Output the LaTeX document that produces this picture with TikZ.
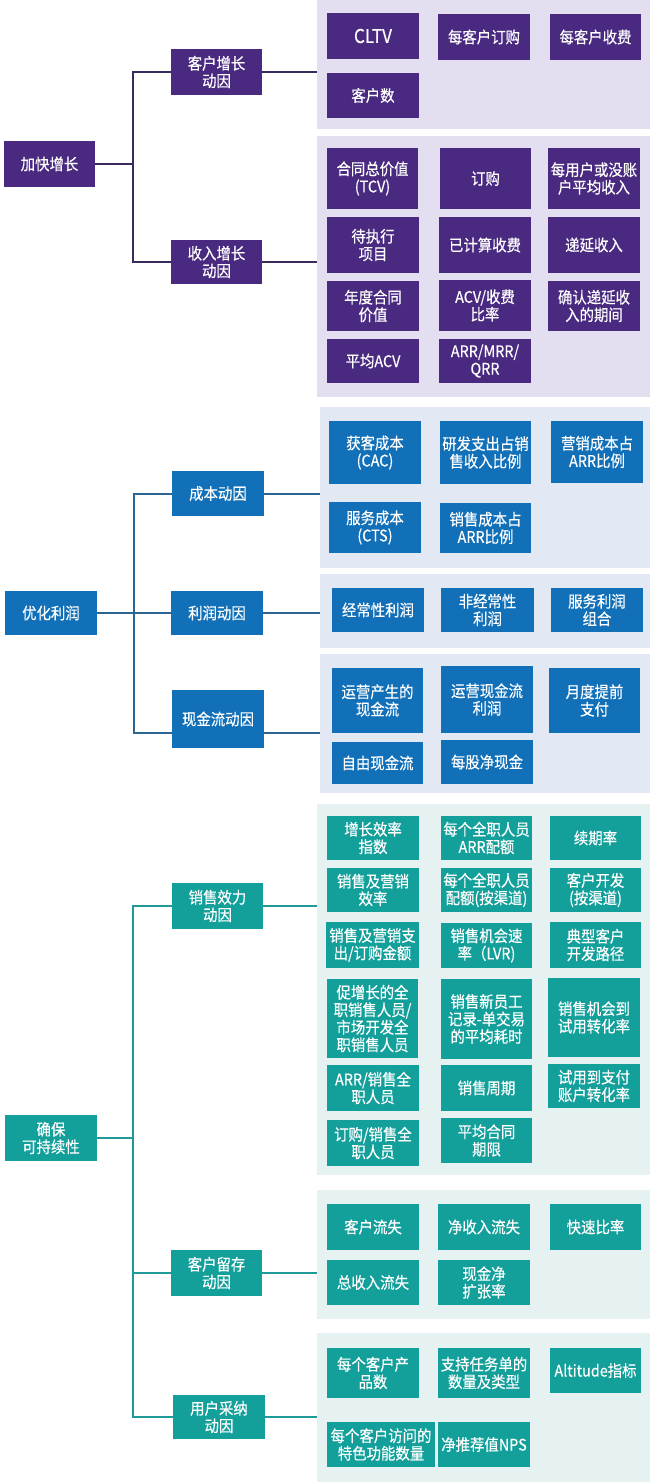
\documentclass[tikz,border=0pt]{standalone}
\usepackage{fontspec}
\setmainfont{Noto Sans CJK SC}[FakeStretch=0.9, FakeBold=0.4]
\definecolor{pur}{HTML}{4A2A80}
\definecolor{purbg}{HTML}{E3DFF0}
\definecolor{purln}{HTML}{3B2A5E}
\definecolor{blu}{HTML}{1170B8}
\definecolor{blubg}{HTML}{E3E9F4}
\definecolor{bluln}{HTML}{2B6592}
\definecolor{tea}{HTML}{13A09B}
\definecolor{teabg}{HTML}{E6F2F2}
\definecolor{tealn}{HTML}{1F9A98}
\tikzset{
  base/.style={inner sep=0pt, outer sep=0pt, align=center, text=white,
    font=\fontsize{16}{17.5}\selectfont},
  pbox/.style={base, fill=pur},
  bbox/.style={base, fill=blu},
  tbox/.style={base, fill=tea},
  ppan/.style={inner sep=0pt, outer sep=0pt, fill=purbg},
  bpan/.style={inner sep=0pt, outer sep=0pt, fill=blubg},
  tpan/.style={inner sep=0pt, outer sep=0pt, fill=teabg},
  pline/.style={draw=purln, line width=2pt},
  bline/.style={draw=bluln, line width=2pt},
  tline/.style={draw=tealn, line width=2pt},
}
\newcommand\mkbox[7]{\node[#1, minimum width={(#5-#3)*1pt}, minimum height={(#6-#4)*1pt}] (#2) at ({(#3+#5)/2},{(#4+#6)/2}) {#7};}
\begin{document}
\begin{tikzpicture}[x=1pt,y=-1pt]
\useasboundingbox[fill=white] (0,0) rectangle (650,1482);
% ---------------- section 1 ----------------
\mkbox{ppan}{p11}{317}{0}{650}{129}{}
\mkbox{ppan}{p12}{317}{136}{650}{397}{}
\mkbox{pbox}{r1}{4}{141}{95}{187}{加快增长}
\mkbox{pbox}{c11}{171}{49}{262}{95}{客户增长\\动因}
\mkbox{pbox}{c12}{171}{240}{262}{284}{收入增长\\动因}
\coordinate (b1) at (133,164);
\draw[pline] (r1.east) -- (r1.east -| b1) |- (c11.west);
\draw[pline] (r1.east -| b1) |- (c12.west);
\draw[pline] (c11.east) -- (c11.east -| p11.west);
\draw[pline] (c12.east) -- (c12.east -| p12.west);
\mkbox{pbox}{l1a}{327}{13}{419}{59}{\fontsize{19}{20}\selectfont CLTV}
\mkbox{pbox}{l1b}{438}{14}{530}{60}{每客户订购}
\mkbox{pbox}{l1c}{550}{14}{641}{60}{每客户收费}
\mkbox{pbox}{l1d}{327}{73}{419}{118}{客户数}
\mkbox{pbox}{l2a}{327}{148}{418}{209}{合同总价值\\(TCV)}
\mkbox{pbox}{l2b}{440}{148}{531}{209}{订购}
\mkbox{pbox}{l2c}{548}{148}{640}{209}{每用户或没账\\户平均收入}
\mkbox{pbox}{l2d}{327}{217}{419}{273}{待执行\\项目}
\mkbox{pbox}{l2e}{439}{217}{531}{273}{已计算收费}
\mkbox{pbox}{l2f}{548}{217}{640}{273}{递延收入}
\mkbox{pbox}{l2g}{327}{281}{419}{331}{年度合同\\价值}
\mkbox{pbox}{l2h}{439}{280}{531}{331}{ACV/收费\\比率}
\mkbox{pbox}{l2i}{548}{281}{640}{331}{确认递延收\\入的期间}
\mkbox{pbox}{l2j}{327}{339}{419}{383}{平均ACV}
\mkbox{pbox}{l2k}{439}{339}{531}{383}{ARR/MRR/\\QRR}
% ---------------- section 2 ----------------
\mkbox{bpan}{p21}{320}{407}{650}{568}{}
\mkbox{bpan}{p22}{320}{574}{650}{648}{}
\mkbox{bpan}{p23}{320}{654}{650}{793}{}
\mkbox{bbox}{r2}{5}{591}{97}{635}{优化利润}
\mkbox{bbox}{c21}{172}{471}{264}{516}{成本动因}
\mkbox{bbox}{c22}{171}{591}{263}{635}{利润动因}
\mkbox{bbox}{c23}{172}{690}{264}{748}{现金流动因}
\coordinate (b2) at (134,613);
\coordinate (c23w) at ([yshift=-14pt]c23.west);
\coordinate (c23e) at ([yshift=-14pt]c23.east);
\draw[bline] (r2.east) -- (r2.east -| b2) |- (c21.west);
\draw[bline] (r2.east -| b2) |- (c22.west);
\draw[bline] (r2.east -| b2) |- (c23w);
\draw[bline] (c21.east) -- (c21.east -| p21.west);
\draw[bline] (c22.east) -- (c22.east -| p22.west);
\draw[bline] (c23e) -- (c23e -| p23.west);
\mkbox{bbox}{m1a}{329}{421}{421}{484}{获客成本\\(CAC)}
\mkbox{bbox}{m1b}{440}{421}{531}{484}{研发支出占销\\售收入比例}
\mkbox{bbox}{m1c}{551}{421}{643}{483}{营销成本占\\ARR比例}
\mkbox{bbox}{m1d}{329}{502}{421}{553}{服务成本\\(CTS)}
\mkbox{bbox}{m1e}{440}{503}{531}{553}{销售成本占\\ARR比例}
\mkbox{bbox}{m2a}{332}{588}{424}{632}{经常性利润}
\mkbox{bbox}{m2b}{441}{588}{534}{632}{非经常性\\利润}
\mkbox{bbox}{m2c}{551}{588}{643}{632}{服务利润\\组合}
\mkbox{bbox}{m3a}{332}{668}{423}{733}{运营产生的\\现金流}
\mkbox{bbox}{m3b}{441}{666}{533}{733}{运营现金流\\利润}
\mkbox{bbox}{m3c}{549}{668}{640}{733}{月度提前\\支付}
\mkbox{bbox}{m3d}{332}{742}{423}{784}{自由现金流}
\mkbox{bbox}{m3e}{441}{740}{533}{784}{每股净现金}
% ---------------- section 3 ----------------
\mkbox{tpan}{p31}{317}{804}{650}{1175}{}
\mkbox{tpan}{p32}{317}{1190}{650}{1319}{}
\mkbox{tpan}{p33}{317}{1333}{650}{1482}{}
\mkbox{tbox}{r3}{5}{1115}{97}{1161}{确保\\可持续性}
\mkbox{tbox}{c31}{172}{883}{263}{929}{销售效力\\动因}
\mkbox{tbox}{c32}{171}{1250}{262}{1296}{客户留存\\动因}
\mkbox{tbox}{c33}{173}{1395}{265}{1439}{用户采纳\\动因}
\coordinate (b3) at (133,1138);
\draw[tline] (r3.east) -- (r3.east -| b3) |- (c31.west);
\draw[tline] (r3.east -| b3) |- (c32.west);
\draw[tline] (r3.east -| b3) |- (c33.west);
\draw[tline] (c31.east) -- (c31.east -| p31.west);
\draw[tline] (c32.east) -- (c32.east -| p32.west);
\draw[tline] (c33.east) -- (c33.east -| p33.west);
\mkbox{tbox}{n1a}{327}{816}{419}{860}{增长效率\\指数}
\mkbox{tbox}{n1b}{441}{816}{532}{860}{每个全职人员\\ARR配额}
\mkbox{tbox}{n1c}{550}{816}{641}{860}{续期率}
\mkbox{tbox}{n1d}{327}{868}{419}{912}{销售及营销\\效率}
\mkbox{tbox}{n1e}{441}{868}{532}{912}{每个全职人员\\配额(按渠道)}
\mkbox{tbox}{n1f}{550}{868}{641}{912}{客户开发\\(按渠道)}
\mkbox{tbox}{n1g}{326}{922}{419}{968}{销售及营销支\\出/订购金额}
\mkbox{tbox}{n1h}{441}{923}{532}{968}{销售机会速\\率（LVR)}
\mkbox{tbox}{n1i}{550}{922}{641}{968}{典型客户\\开发路径}
\mkbox{tbox}{n1j}{327}{979}{418}{1058}{促增长的全\\职销售人员/\\市场开发全\\职销售人员}
\mkbox{tbox}{n1k}{441}{979}{532}{1059}{销售新员工\\记录-单交易\\的平均耗时}
\mkbox{tbox}{n1l}{548}{978}{640}{1057}{销售机会到\\试用转化率}
\mkbox{tbox}{n1m}{327}{1065}{419}{1111}{ARR/销售全\\职人员}
\mkbox{tbox}{n1n}{441}{1065}{532}{1111}{销售周期}
\mkbox{tbox}{n1o}{548}{1064}{640}{1108}{试用到支付\\账户转化率}
\mkbox{tbox}{n1p}{327}{1120}{419}{1166}{订购/销售全\\职人员}
\mkbox{tbox}{n1q}{441}{1118}{532}{1163}{平均合同\\期限}
\mkbox{tbox}{n2a}{327}{1204}{419}{1250}{客户流失}
\mkbox{tbox}{n2b}{438}{1204}{530}{1250}{净收入流失}
\mkbox{tbox}{n2c}{550}{1204}{641}{1250}{快速比率}
\mkbox{tbox}{n2d}{327}{1260}{419}{1305}{总收入流失}
\mkbox{tbox}{n2e}{438}{1260}{530}{1305}{现金净\\扩张率}
\mkbox{tbox}{n3a}{327}{1348}{419}{1398}{每个客户产\\品数}
\mkbox{tbox}{n3b}{438}{1348}{530}{1398}{支持任务单的\\数量及类型}
\mkbox{tbox}{n3c}{550}{1348}{641}{1393}{Altitude指标}
\mkbox{tbox}{n3d}{327}{1422}{435}{1467}{每个客户访问的\\特色功能数量}
\mkbox{tbox}{n3e}{438}{1422}{530}{1467}{净推荐值NPS}
\end{tikzpicture}
\end{document}
